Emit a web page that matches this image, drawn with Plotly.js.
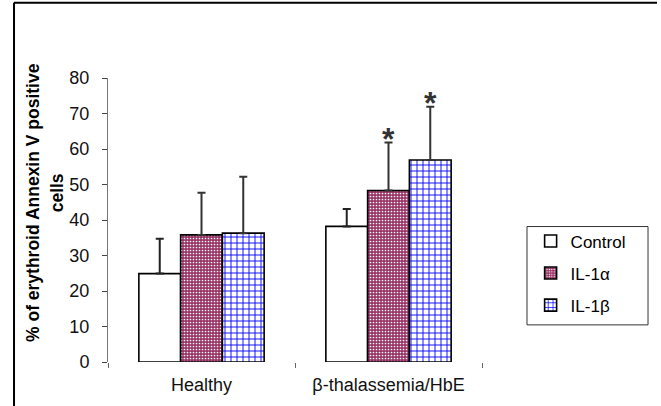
<!DOCTYPE html>
<html>
<head>
<meta charset="utf-8">
<script src="https://cdn.plot.ly/plotly-3.0.1.min.js"></script>
<style>html,body{margin:0;padding:0;background:#fff;}#chart{width:661px;height:406px;}</style>
</head>
<body>
<div id="chart"></div>
<script>
// ---- data ----
const categories = ["Healthy", "β-thalassemia/HbE"];
const seriesNames = ["Control", "IL-1α", "IL-1β"];
const controlValues = [24.9, 38.2];
const controlErrors = [9.8, 4.9];
const il1aValues = [35.8, 48.3];
const il1aErrors = [11.9, 13.5];
const il1bValues = [36.3, 56.9];
const il1bErrors = [15.9, 15.0];
const significant = [[false, false], [false, true], [false, true]]; // [series][category]
const yTickVals = [0, 10, 20, 30, 40, 50, 60, 70, 80];

const values = [controlValues, il1aValues, il1bValues];
const errors = [controlErrors, il1aErrors, il1bErrors];

const FONT = "Liberation Sans, Arial, sans-serif";
const bargap = 0.33;

const styles = [
  {color: "#ffffff", pattern: {shape: ""}},
  {color: "#993366", pattern: {shape: ".", fgcolor: "#ffffff", bgcolor: "#993366", size: 3, solidity: 0.25}},
  {color: "#ffffff", pattern: {shape: "+", fgcolor: "#0000ff", bgcolor: "#ffffff", size: 6, solidity: 0.28}}
];
const errColors = ["#222222", "#333333", "#333333"];

const traces = seriesNames.map((name, i) => ({
  type: "bar",
  name: name,
  legendgroup: "g" + i,
  x: categories,
  y: values[i],
  marker: {
    color: styles[i].color,
    pattern: styles[i].pattern,
    line: {color: "#000000", width: 1.6}
  },
  error_y: {
    type: "data",
    symmetric: false,
    array: errors[i],
    arrayminus: values[i].map(() => 0),
    color: errColors[i],
    thickness: 2,
    width: 4
  },
  hoverinfo: "skip"
}));

// significance asterisks, positioned in category index units
const annotations = [];
const groupW = 1 - bargap;
seriesNames.forEach((name, i) => {
  categories.forEach((c, j) => {
    if (significant[i][j]) {
      annotations.push({
        xref: "x", yref: "y",
        x: j + (i - 1) * groupW / 3,
        y: values[i][j] + errors[i][j],
        text: "<b>*</b>",
        showarrow: false,
        yanchor: "bottom",
        yshift: -16,
        font: {family: FONT, size: 32, color: "#333333"}
      });
    }
  });
});
// y-axis title (two lines placed separately)
annotations.push({
  xref: "paper", yref: "paper", x: -0.2005, y: 0.56,
  text: "<b>% of erythroid Annexin V positive</b>", textangle: -90,
  showarrow: false, xanchor: "center", yanchor: "middle",
  font: {family: FONT, size: 17.5, color: "#000000"}
});
annotations.push({
  xref: "paper", yref: "paper", x: -0.134, y: 0.597,
  text: "<b>cells</b>", textangle: -90,
  showarrow: false, xanchor: "center", yanchor: "middle",
  font: {family: FONT, size: 17.5, color: "#000000"}
});

const layout = {
  width: 661, height: 406,
  margin: {l: 108, r: 179, t: 78, b: 44, pad: 0},
  paper_bgcolor: "#ffffff",
  plot_bgcolor: "#ffffff",
  barmode: "group",
  bargap: bargap,
  bargroupgap: 0,
  showlegend: true,
  font: {family: FONT, size: 18, color: "#000000"},
  xaxis: {
    type: "category",
    showline: false,
    showgrid: false,
    zeroline: false,
    ticks: "outside",
    tickson: "boundaries",
    ticklen: 5,
    tickcolor: "#666666",
    ticklabelstandoff: 10,
    tickfont: {family: FONT, size: 18, color: "#111111"}
  },
  yaxis: {
    range: [0, 80],
    tickvals: yTickVals,
    ticktext: yTickVals.map(String),
    showline: true,
    linecolor: "#777777",
    linewidth: 1,
    showgrid: false,
    zeroline: false,
    ticks: "outside",
    ticklen: 5,
    tickcolor: "#444444",
    ticklabelstandoff: 9,
    tickfont: {family: FONT, size: 18, color: "#111111"}
  },
  legend: {
    x: 1.13, y: 0.488, xanchor: "left", yanchor: "top",
    bgcolor: "rgba(0,0,0,0)",
    borderwidth: 0,
    traceorder: "grouped",
    tracegroupgap: 7,
    itemwidth: 30,
    font: {family: FONT, size: 17, color: "#000000"}
  },
  annotations: annotations,
  shapes: [
    // outer frame (top and left)
    {type: "line", xref: "paper", yref: "paper", x0: -0.2513, x1: 1.468, y0: 1.265, y1: 1.265, line: {color: "#000000", width: 2}},
    {type: "line", xref: "paper", yref: "paper", x0: -0.2513, x1: -0.2513, y0: 1.265, y1: -0.16, line: {color: "#000000", width: 2}},
    // legend box
    {type: "rect", xref: "paper", yref: "paper", x0: 1.1203, x1: 1.4439, y0: 0.477, y1: 0.1307, line: {color: "#333333", width: 1}}
  ]
};

Plotly.newPlot("chart", traces, layout, {staticPlot: true, displayModeBar: false});
</script>
</body>
</html>
